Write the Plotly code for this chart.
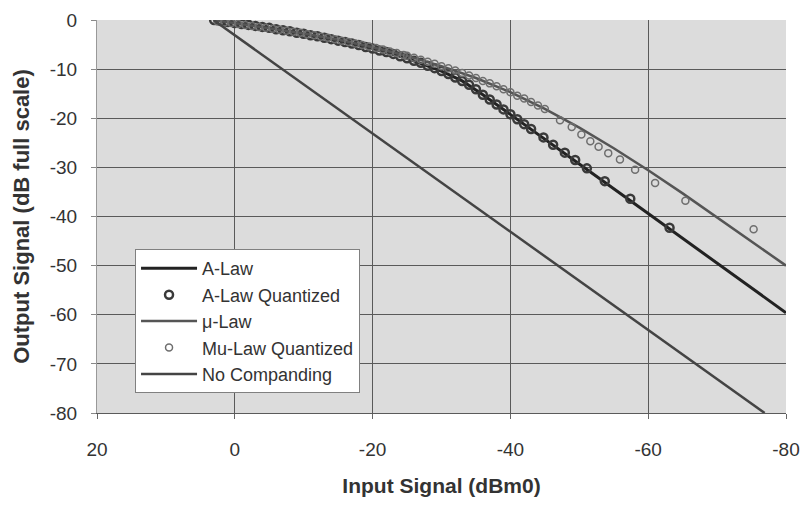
import plotly.graph_objects as go

# ---------------- data ----------------
x_tick_vals = [20, 0, -20, -40, -60, -80]
x_tick_text = ["20", "0", "-20", "-40", "-60", "-80"]
y_tick_vals = [0, -10, -20, -30, -40, -50, -60, -70, -80]
y_tick_text = ["0", "-10", "-20", "-30", "-40", "-50", "-60", "-70", "-80"]

alaw_x = [3, 0, -5, -10, -15, -20, -25, -30, -33, -35.7, -40, -50, -60, -70, -80]
alaw_y = [0, -0.6, -1.6, -2.8, -4.2, -5.8, -7.8, -10.4, -12.4, -14.9, -19.2, -29.3, -39.4, -49.5, -59.6]

alawq_x = [3, 2, 1, 0, -1, -2, -3, -4, -5, -6, -7, -8, -9, -10, -11, -12, -13, -14, -15,
           -16, -17, -18, -19, -20, -21, -22, -23, -24, -25, -26, -27, -28, -29, -30,
           -31, -32, -33, -34, -35, -36, -37, -38, -39, -40, -41, -42, -43,
           -44.8, -46.2, -47.9, -49.4, -51.1, -53.7, -57.4, -63.1]
alawq_y = [0.0, -0.2, -0.4, -0.6, -0.8, -1.0, -1.2, -1.4, -1.6, -1.9, -2.1, -2.3, -2.6, -2.8,
           -3.1, -3.3, -3.6, -3.9, -4.2, -4.5, -4.8, -5.1, -5.5, -5.8, -6.2, -6.5, -6.9, -7.4,
           -7.8, -8.3, -8.7, -9.3, -9.8, -10.4, -11.0, -11.7, -12.4, -13.2, -14.1, -15.2,
           -16.2, -17.2, -18.2, -19.2, -20.2, -21.2, -22.2,
           -23.9, -25.4, -27.0, -28.5, -30.2, -32.8, -36.4, -42.3]

mulaw_x = [3, 0, -5, -10, -15, -20, -25, -30, -35, -40, -45, -50, -55, -60, -65, -70, -75, -80]
mulaw_y = [0, -0.6, -1.6, -2.75, -4.0, -5.55, -7.3, -9.4, -11.8, -14.7, -18.1, -21.9, -26.1,
           -30.6, -35.3, -40.2, -45.1, -50.0]

mulawq_x = [2.5, 1.5, 0.5, -0.5, -1.5, -2.5, -3.5, -4.5, -5.5, -6.5, -7.5, -8.5, -9.5, -10.5,
            -11.5, -12.5, -13.5, -14.5, -15.5, -16.5, -17.5, -18.5, -19.5, -20.5, -21.5,
            -22.5, -23.5, -24.5,
            -25, -26, -27, -28, -29, -30, -31, -32, -33, -34, -35, -36, -37, -38, -39, -40,
            -41, -42, -43, -44,
            -45.0, -47.2, -48.9, -50.3, -51.6, -52.8, -54.2, -55.9, -58.1, -61.0, -65.4, -75.3]
mulawq_y = [-0.3, -0.5, -0.6, -0.8, -1.0, -1.2, -1.4, -1.6, -1.8, -2.0, -2.2, -2.4, -2.6, -2.9,
            -3.1, -3.4, -3.6, -3.9, -4.2, -4.5, -4.8, -5.1, -5.4, -5.7, -6.0,
            -6.4, -6.7, -7.1,
            -7.3, -7.7, -8.1, -8.5, -8.9, -9.4, -9.8, -10.3, -10.8, -11.3, -11.8, -12.4, -12.9,
            -13.5, -14.1, -14.7, -15.4, -16.0, -16.7, -17.4,
            -18.1, -20.4, -21.8, -23.3, -24.7, -25.8, -27.1, -28.4, -30.5, -33.2, -36.8, -42.6]

nocomp_x = [3.1, -76.9]
nocomp_y = [0, -80]

# ---------------- figure ----------------
FONT = "Liberation Sans, Arial, sans-serif"

fig = go.Figure()
fig.add_trace(go.Scatter(x=alaw_x, y=alaw_y, mode="lines", name="A-Law",
                         line=dict(color="#222222", width=3)))
fig.add_trace(go.Scatter(x=alawq_x, y=alawq_y, mode="markers", name="A-Law Quantized",
                         marker=dict(symbol="circle-open", size=8, color="#3a3a3a",
                                     line=dict(width=2.5))))
fig.add_trace(go.Scatter(x=mulaw_x, y=mulaw_y, mode="lines", name="μ-Law",
                         line=dict(color="#555555", width=2.5)))
fig.add_trace(go.Scatter(x=mulawq_x, y=mulawq_y, mode="markers", name="Mu-Law Quantized",
                         marker=dict(symbol="circle-open", size=7, color="#6e6e6e",
                                     line=dict(width=1.5))))
fig.add_trace(go.Scatter(x=nocomp_x, y=nocomp_y, mode="lines", name="No Companding",
                         line=dict(color="#444444", width=2.5)))

# The page body adds an 8 px offset, so the figure is sized/margined to compensate.
fig.update_layout(
    width=803, height=507,
    margin=dict(l=89, r=25, t=12, b=102),
    paper_bgcolor="white",
    plot_bgcolor="#dcdcdc",
    font=dict(family=FONT, color="#333333"),
    showlegend=True,
    legend=dict(x=0.0552, y=0.417, xanchor="left", yanchor="top",
                bgcolor="white", bordercolor="#808080", borderwidth=1,
                font=dict(size=18, color="#333333", family=FONT),
                itemwidth=56),
)
fig.update_xaxes(
    automargin=False,
    range=[20, -80], tickmode="array", tickvals=x_tick_vals, ticktext=x_tick_text,
    ticks="outside", ticklen=5, tickcolor="#666666",
    showgrid=True, gridcolor="#5a5a5a", gridwidth=1, zeroline=False,
    showline=True, linecolor="#5a5a5a", linewidth=1,
    tickfont=dict(size=19, color="#333333"), ticklabelstandoff=14,
    title=dict(text="Input Signal (dBm0)", font=dict(size=21, weight="bold", color="#333333"),
               standoff=19),
)
fig.update_yaxes(
    automargin=False,
    range=[-80, 0], tickmode="array", tickvals=y_tick_vals, ticktext=y_tick_text,
    ticks="outside", ticklen=5, tickcolor="#888888",
    showgrid=True, gridcolor="#5a5a5a", gridwidth=1, zeroline=False,
    showline=True, linecolor="#999999", linewidth=1,
    tickfont=dict(size=19, color="#333333"), ticklabelstandoff=10,
    title=dict(text="Output Signal (dB full scale)", font=dict(size=22, weight="bold", color="#333333"),
               standoff=14),
)

fig.write_html("out.html")
